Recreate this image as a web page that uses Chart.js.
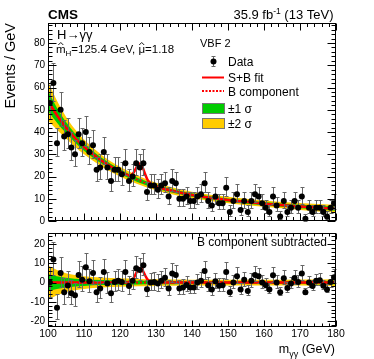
<!DOCTYPE html>
<html>
<head>
<meta charset="utf-8">
<script src="https://cdn.jsdelivr.net/npm/chart.js@4.4.1/dist/chart.umd.min.js"></script>
<style>
  html, body { margin: 0; padding: 0; background: #fff; }
  #wrap { position: relative; width: 374px; height: 359px; }
  canvas { position: absolute; left: 0; top: 0; }
</style>
</head>
<body>
<div id="wrap">
  <canvas id="upper" width="374" height="359"></canvas>
  <canvas id="lower" width="374" height="359"></canvas>
</div>
<script>
const FONT = "'Liberation Sans', Arial, Helvetica, sans-serif";
Chart.defaults.font.family = FONT;
Chart.defaults.color = '#000';

// diphoton mass bin centres (GeV)
const massBins = [
  100.5, 101.5, 102.5, 103.5, 104.5, 105.5, 106.5, 107.5, 108.5, 109.5,
  110.5, 111.5, 112.5, 113.5, 114.5, 115.5, 116.5, 117.5, 118.5, 119.5,
  120.5, 121.5, 122.5, 123.5, 124.5, 125.5, 126.5, 127.5, 128.5, 129.5,
  130.5, 131.5, 132.5, 133.5, 134.5, 135.5, 136.5, 137.5, 138.5, 139.5,
  140.5, 141.5, 142.5, 143.5, 144.5, 145.5, 146.5, 147.5, 148.5, 149.5,
  150.5, 151.5, 152.5, 153.5, 154.5, 155.5, 156.5, 157.5, 158.5, 159.5,
  160.5, 161.5, 162.5, 163.5, 164.5, 165.5, 166.5, 167.5, 168.5, 169.5,
  170.5, 171.5, 172.5, 173.5, 174.5, 175.5, 176.5, 177.5, 178.5, 179.5
];
// events / GeV
const events = [
  53, 62, 35, 50, 38, 39, 33, 30, 39, 35,
  40, 31, 34, 23, 24, 31, 24, 18, 23, 23,
  21, 26, 18, 20, 26, 24, 26, 13, 16, 16,
  14, 16, 17, 11, 18, 17, 10, 10, 11, 9,
  9, 11, 12, 17, 9, 7, 11, 8, 8, 15,
  4, 9, 12, 5, 9, 4, 9, 12, 11, 8,
  6, 4, 11, 7, 2, 9, 4, 6, 9, 6,
  11, 1, 6, 4, 6, 6, 4, 2, 6, 8
];
const errLo = [
  7.3, 7.9, 5.9, 7.1, 6.2, 6.2, 5.7, 5.5, 6.2, 5.9,
  6.3, 5.6, 5.8, 4.8, 4.9, 5.6, 4.9, 4.3, 4.8, 4.8,
  4.6, 5.1, 4.3, 4.4, 5.1, 4.9, 5.1, 3.6, 4.0, 4.0,
  3.7, 4.0, 4.1, 3.3, 4.3, 4.1, 3.1, 3.1, 3.3, 3.0,
  3.0, 3.3, 3.4, 4.1, 3.0, 2.6, 3.3, 2.8, 2.8, 3.8,
  1.9, 3.0, 3.4, 2.2, 3.0, 1.9, 3.0, 3.4, 3.3, 2.8,
  2.4, 1.9, 3.3, 2.6, 1.3, 3.0, 1.9, 2.4, 3.0, 2.4,
  3.3, 0.9, 2.4, 1.9, 2.4, 2.4, 1.9, 1.3, 2.4, 2.8
];
const errHi = [
  8.3, 8.9, 7.0, 8.1, 7.2, 7.3, 6.8, 6.6, 7.3, 7.0,
  7.4, 6.6, 6.9, 5.9, 6.0, 6.6, 6.0, 5.3, 5.9, 5.9,
  5.7, 6.2, 5.3, 5.5, 6.2, 6.0, 6.2, 4.7, 5.1, 5.1,
  4.8, 5.1, 5.2, 4.4, 5.3, 5.2, 4.3, 4.3, 4.4, 4.1,
  4.1, 4.4, 4.6, 5.2, 4.1, 3.8, 4.4, 4.0, 4.0, 5.0,
  3.2, 4.1, 4.6, 3.4, 4.1, 3.2, 4.1, 4.6, 4.4, 4.0,
  3.6, 3.2, 4.4, 3.8, 2.7, 4.1, 3.2, 3.6, 4.1, 3.6,
  4.4, 2.3, 3.6, 3.2, 3.6, 3.6, 3.2, 2.7, 3.6, 4.0
];
// data minus B component
const residuals = [
  0, 12, -13, 5, -5, -1.5, -5.5, -6.6, 4, 1.5,
  8, 0.7, 5, -5, -3, 5.5, -0.5, -5.5, 0.3, 1,
  0.3, 5.5, -1.7, 1, 7.5, 6.5, 9, -3.5, 0, 0.3,
  -0.5, 1, 2.5, -3, 4.7, 4, -3, -2.6, -1.2, -2.6,
  -2.6, 0, 1, 6, -1.4, -3.6, 0.7, -1.6, -1.4, 5.5,
  -5, 0, 3.3, -3.6, 1.5, -4.3, 0.9, 4, 3.3, 0,
  -1.4, -3.6, 3.8, 0, -5, 2.3, -2.8, -0.5, 2.4, 0.3,
  4.7, -5, 0, -1.7, 1, 1.2, -1.6, -3.6, 0.3, 2.8
];

// background fit and its uncertainty bands
const bkgMass = [100, 102.5, 105, 107.5, 110, 115, 120, 125, 130, 135, 140, 150, 160, 170, 180];
const bkgFit  = [54, 47.5, 42, 37.3, 33.3, 27, 22.2, 18.4, 15.5, 13.4, 11.7, 9.4, 7.8, 6.5, 5.5];
const band1   = [4.5, 3.3, 2.5, 2.0, 1.7, 1.3, 1.1, 0.95, 0.85, 0.8, 0.75, 0.7, 0.7, 0.75, 0.9];
const band2   = [8.8, 6.5, 4.9, 3.9, 3.3, 2.6, 2.2, 1.9, 1.7, 1.6, 1.5, 1.45, 1.45, 1.55, 1.8];

// signal peak region
const peakMass = [121, 122, 122.5, 123, 123.5, 124, 124.5, 125, 125.5, 126, 126.5, 127, 127.5, 128, 128.5, 129];
const peakSB   = [21.4, 20.7, 20.5, 20.6, 21.2, 22.3, 23.9, 25.3, 25.9, 25.0, 23.2, 21.0, 19.0, 17.6, 16.8, 16.3];
const peakSig  = [0, 0.1, 0.3, 0.8, 1.7, 3.1, 5.0, 6.8, 7.6, 7.1, 5.6, 3.7, 2.0, 0.9, 0.3, 0.1];

const RED = '#ff0000', GREEN = '#00cc00', YELLOW = '#ffcc00';

const pts = (xs, ys) => xs.map((x, i) => ({ x, y: ys[i] }));
const dataPts = pts(massBins, events);
const residPts = pts(massBins, residuals);
const bkgPts = pts(bkgMass, bkgFit);
const sbPts = [...bkgPts.filter(p => p.x < 121), ...pts(peakMass, peakSB), ...bkgPts.filter(p => p.x > 129)];
const sigPts = [{ x: 100, y: 0 }, { x: 120, y: 0 }, ...pts(peakMass, peakSig), { x: 130, y: 0 }, { x: 180, y: 0 }];

function bandSets(center, hi1, hi2) {
  const line = { showLine: true, pointRadius: 0, borderWidth: 1, borderColor: 'rgba(0,0,0,0)', cubicInterpolationMode: 'monotone' };
  return [
    { ...line, data: bkgMass.map((x, i) => ({ x, y: center[i] + hi1[i] })), fill: '+1', backgroundColor: GREEN, order: 3 },
    { ...line, data: bkgMass.map((x, i) => ({ x, y: center[i] - hi1[i] })), order: 3 },
    { ...line, data: bkgMass.map((x, i) => ({ x, y: center[i] + hi2[i] })), fill: '+1', backgroundColor: YELLOW, order: 4 },
    { ...line, data: bkgMass.map((x, i) => ({ x, y: center[i] - hi2[i] })), order: 4 }
  ];
}

// error bars drawn just before the data markers
const errorBars = {
  id: 'errorBars',
  beforeDatasetDraw(chart, args) {
    if (args.index !== 0) return;
    const { ctx, scales: { x, y } } = chart;
    ctx.save();
    ctx.strokeStyle = '#666';
    ctx.lineWidth = 1;
    ctx.beginPath();
    chart.data.datasets[0].data.forEach((p, i) => {
      const px = Math.round(x.getPixelForValue(p.x)) + 0.5;
      const yt = Math.round(y.getPixelForValue(p.y + errHi[i])) + 0.5;
      const yb = Math.round(y.getPixelForValue(p.y - errLo[i])) + 0.5;
      ctx.moveTo(px, yt); ctx.lineTo(px, yb);
      ctx.moveTo(px - 2, yt); ctx.lineTo(px + 2, yt);
      ctx.moveTo(px - 2, yb); ctx.lineTo(px + 2, yb);
    });
    ctx.stroke();
    ctx.restore();
  }
};

// ROOT-like frame with inward ticks on all four sides
const frameTicks = {
  id: 'frameTicks',
  afterDraw(chart, args, o) {
    const { ctx, chartArea: a, scales: { x, y } } = chart;
    const L = Math.round(a.left) + 0.5, R = Math.round(a.right) - 0.5;
    const T = Math.round(a.top) + 0.5, B = Math.round(a.bottom) - 0.5;
    const isMajor = (v, step) => Math.abs(v / step - Math.round(v / step)) < 1e-6;
    ctx.save();
    ctx.strokeStyle = '#000';
    ctx.lineWidth = 1;
    ctx.beginPath();
    for (let v = x.min; v <= x.max + 1e-6; v += o.xMinor) {
      const px = Math.round(x.getPixelForValue(v)) + 0.5;
      const len = isMajor(v, o.xMajor) ? o.xMajorLen : o.xMinorLen;
      ctx.moveTo(px, B); ctx.lineTo(px, B - len);
      ctx.moveTo(px, T); ctx.lineTo(px, T + len);
    }
    for (let v = o.yStart; v <= y.max + 1e-6; v += o.yMinor) {
      if (v < y.min) continue;
      const py = Math.round(y.getPixelForValue(v)) + 0.5;
      const len = isMajor(v, o.yMajor) ? o.yMajorLen : o.yMinorLen;
      ctx.moveTo(L, py); ctx.lineTo(L + len, py);
      ctx.moveTo(R, py); ctx.lineTo(R - len, py);
    }
    ctx.stroke();
    ctx.strokeRect(L, T, R - L, B - T);
    ctx.restore();
  }
};

// text made of pieces with their own size / vertical offset
function richText(ctx, parts, x, y, align) {
  let w = 0;
  parts.forEach(p => {
    ctx.font = `${p.b ? 'bold ' : ''}${p.s}px ${FONT}`;
    p.w = ctx.measureText(p.t).width;
    w += p.w;
  });
  let cx = align === 'right' ? x - w : x;
  ctx.textAlign = 'left';
  parts.forEach(p => {
    ctx.font = `${p.b ? 'bold ' : ''}${p.s}px ${FONT}`;
    ctx.fillText(p.t, cx, y + (p.dy || 0));
    p.x = cx;
    cx += p.w;
  });
  return parts;
}

function hat(ctx, cx, top) {
  ctx.beginPath();
  ctx.moveTo(cx - 2.5, top + 2.5);
  ctx.lineTo(cx, top);
  ctx.lineTo(cx + 2.5, top + 2.5);
  ctx.stroke();
}

const upperText = {
  id: 'upperText',
  afterDraw(chart) {
    const ctx = chart.ctx;
    ctx.save();
    ctx.fillStyle = '#000';
    ctx.strokeStyle = '#000';
    ctx.textBaseline = 'alphabetic';

    richText(ctx, [{ t: 'CMS', s: 13.5, b: true }], 48, 18.5);
    richText(ctx, [{ t: '35.9 fb', s: 13 }, { t: '-1', s: 8.5, dy: -5 }, { t: ' (13 TeV)', s: 13 }], 333.5, 18.5, 'right');

    // y axis title
    ctx.save();
    ctx.translate(15, 23);
    ctx.rotate(-Math.PI / 2);
    ctx.font = `14.5px ${FONT}`;
    ctx.textAlign = 'right';
    ctx.fillText('Events / GeV', 0, 0);
    ctx.restore();

    richText(ctx, [{ t: 'H\u2192\u03b3\u03b3', s: 13 }], 57, 38.5);
    const p = richText(ctx, [
      { t: 'm', s: 11.5 }, { t: 'H', s: 8, dy: 3 }, { t: '=125.4 GeV, ', s: 11.5 },
      { t: '\u03bc', s: 11.5 }, { t: '=1.18', s: 11.5 }
    ], 56, 53);
    ctx.lineWidth = 0.9;
    hat(ctx, p[0].x + p[0].w / 2, 42.5);
    hat(ctx, p[3].x + p[3].w / 2, 42.5);

    // legend
    richText(ctx, [{ t: 'VBF 2', s: 11 }], 200, 47);
    ctx.strokeStyle = '#666';
    ctx.lineWidth = 1;
    ctx.beginPath();
    ctx.moveTo(213.5, 56); ctx.lineTo(213.5, 67);
    ctx.moveTo(211.5, 56.5); ctx.lineTo(215.5, 56.5);
    ctx.moveTo(211.5, 66.5); ctx.lineTo(215.5, 66.5);
    ctx.stroke();
    ctx.beginPath();
    ctx.arc(213.5, 61.5, 3, 0, Math.PI * 2);
    ctx.fill();
    richText(ctx, [{ t: 'Data', s: 12 }], 228, 65.5);

    ctx.strokeStyle = RED;
    ctx.lineWidth = 2;
    ctx.beginPath(); ctx.moveTo(202, 77.5); ctx.lineTo(224, 77.5); ctx.stroke();
    richText(ctx, [{ t: 'S+B fit', s: 12 }], 228, 81.5);
    ctx.setLineDash([2, 1.5]);
    ctx.beginPath(); ctx.moveTo(202, 91); ctx.lineTo(224, 91); ctx.stroke();
    ctx.setLineDash([]);
    richText(ctx, [{ t: 'B component', s: 12 }], 228, 95.5);

    ctx.strokeStyle = '#777';
    ctx.lineWidth = 1;
    ctx.fillStyle = GREEN;
    ctx.fillRect(202.5, 103.5, 22, 10); ctx.strokeRect(202.5, 103.5, 22, 10);
    ctx.fillStyle = YELLOW;
    ctx.fillRect(202.5, 118.5, 22, 10); ctx.strokeRect(202.5, 118.5, 22, 10);
    ctx.fillStyle = '#000';
    richText(ctx, [{ t: '\u00b11 \u03c3', s: 12 }], 228, 112.5);
    richText(ctx, [{ t: '\u00b12 \u03c3', s: 12 }], 228, 128);
    ctx.restore();
  }
};

const lowerText = {
  id: 'lowerText',
  afterDraw(chart) {
    const ctx = chart.ctx;
    ctx.save();
    ctx.fillStyle = '#000';
    ctx.textBaseline = 'alphabetic';
    richText(ctx, [{ t: 'B component subtracted', s: 12 }], 327, 246, 'right');
    richText(ctx, [{ t: 'm', s: 12.5 }, { t: '\u03b3\u03b3', s: 9, dy: 3.5 }, { t: ' (GeV)', s: 12.5 }], 335, 353, 'right');
    ctx.restore();
  }
};

const lineBase = { showLine: true, pointRadius: 0, cubicInterpolationMode: 'monotone' };
const dataBase = { pointRadius: 3, pointBackgroundColor: '#000', pointBorderColor: '#000', pointBorderWidth: 0, order: 0 };
const yTicks = { stepSize: 10, includeBounds: false, padding: 3, font: { size: 10 }, color: '#000' };

new Chart(document.getElementById('upper'), {
  type: 'scatter',
  data: {
    datasets: [
      { ...dataBase, data: dataPts },
      { ...lineBase, data: sbPts, borderColor: RED, borderWidth: 2.5, order: 1 },
      { ...lineBase, data: bkgPts, borderColor: RED, borderWidth: 2, borderDash: [2, 2], order: 2 },
      ...bandSets(bkgFit, band1, band2)
    ]
  },
  options: {
    responsive: false,
    animation: false,
    events: [],
    layout: { padding: { left: 0, right: 38, top: 23, bottom: 138 } },
    plugins: {
      legend: { display: false },
      tooltip: { enabled: false },
      frameTicks: { xMajor: 10, xMinor: 2, xMajorLen: 7, xMinorLen: 3.5, yStart: 0, yMajor: 10, yMinor: 2, yMajorLen: 8, yMinorLen: 4 }
    },
    scales: {
      x: { type: 'linear', min: 100, max: 180, display: false },
      y: {
        min: 0, max: 89,
        afterFit: s => { s.width = 48; },
        grid: { display: false, drawTicks: false },
        border: { display: false },
        ticks: yTicks
      }
    }
  },
  plugins: [errorBars, frameTicks, upperText]
});

new Chart(document.getElementById('lower'), {
  type: 'scatter',
  data: {
    datasets: [
      { ...dataBase, data: residPts },
      { ...lineBase, data: sigPts, borderColor: RED, borderWidth: 2.5, order: 1 },
      { ...lineBase, data: [{ x: 100, y: 0 }, { x: 180, y: 0 }], borderColor: RED, borderWidth: 2, borderDash: [2, 2], order: 2 },
      ...bandSets(bkgMass.map(() => 0), band1, band2)
    ]
  },
  options: {
    responsive: false,
    animation: false,
    events: [],
    layout: { padding: { left: 0, right: 38, top: 233, bottom: 0 } },
    plugins: {
      legend: { display: false },
      tooltip: { enabled: false },
      frameTicks: { xMajor: 10, xMinor: 2, xMajorLen: 6, xMinorLen: 3, yStart: -22, yMajor: 10, yMinor: 2, yMajorLen: 8, yMinorLen: 4 }
    },
    scales: {
      x: {
        type: 'linear', min: 100, max: 180,
        afterFit: s => { s.height = 32; },
        grid: { display: false, drawTicks: false },
        border: { display: false },
        ticks: { stepSize: 10, includeBounds: false, padding: 1, maxRotation: 0, font: { size: 10.5 }, color: '#000' }
      },
      y: {
        min: -23, max: 25.7,
        afterFit: s => { s.width = 48; },
        grid: { display: false, drawTicks: false },
        border: { display: false },
        ticks: yTicks
      }
    }
  },
  plugins: [errorBars, frameTicks, lowerText]
});
</script>
</body>
</html>
